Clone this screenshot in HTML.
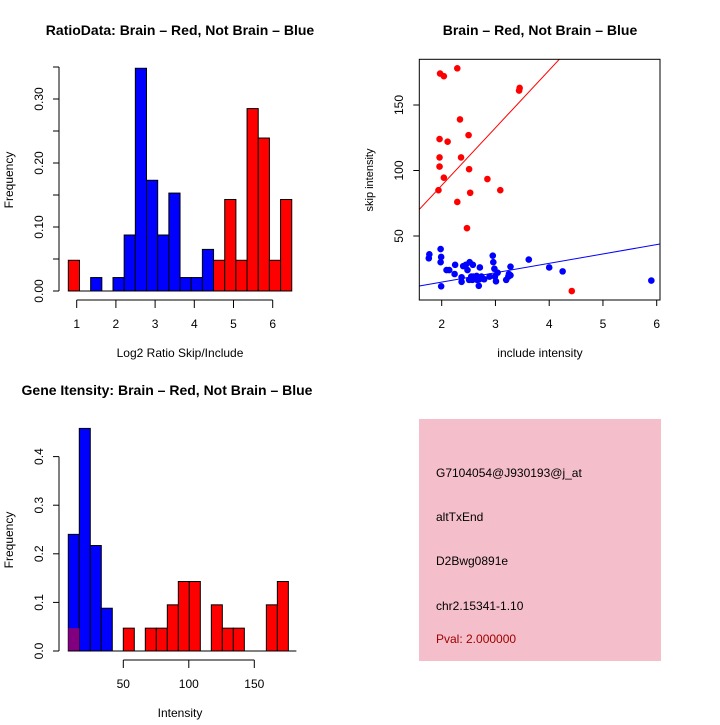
<!DOCTYPE html>
<html><head><meta charset="utf-8"><style>
html,body{margin:0;padding:0;background:#fff;}
svg text{font-family:"Liberation Sans",Arial,sans-serif;}
</style></head><body>
<svg id="s" xmlns="http://www.w3.org/2000/svg" width="720" height="720" viewBox="0 0 720 720">
<rect x="0" y="0" width="720" height="720" fill="#fff"/>
<g id="p1"></g>
<g id="p2"></g>
<g id="p3"></g>
<g>
<rect x="419" y="419" width="242" height="242" fill="#f4bfcb"/>
<text x="436" y="477" font-size="12">G7104054@J930193@j_at</text>
<text x="436" y="521" font-size="12">altTxEnd</text>
<text x="436" y="565" font-size="12">D2Bwg0891e</text>
<text x="436" y="610" font-size="12">chr2.15341-1.10</text>
<text x="436" y="643" font-size="12" fill="#a00000">Pval: 2.000000</text>
</g>
</svg>
<script>
// ---- data: ratio histogram (20 bins) ----
const ratioBinStart = 0.786;
const ratioBinWidth = 0.285;
const ratioColors = ["r","n","b","n","b","b","b","b","b","b","b","b","b","r","r","r","r","r","r","r"];
const ratioFreq = [0.048,0,0.021,0,0.021,0.0875,0.348,0.173,0.0875,0.153,0.021,0.021,0.065,0.048,0.143,0.048,0.285,0.239,0.048,0.143];
const ratioXTicks = [1,2,3,4,5,6];
const ratioYTicks = ["0.00","0.10","0.20","0.30"];
// ---- data: scatter ----
const redX = [2.29,1.97,2.04,3.44,3.45,2.34,2.50,1.96,2.11,1.96,2.36,1.96,2.51,2.04,2.85,3.09,1.94,2.53,2.29,2.47,4.42];
const redY = [178,174,172,161,163,139,127,124,122,110,110,103,101,94.5,93.5,85,85,83,76,56,8];
const blueX = [1.77,1.76,1.98,1.99,1.98,1.99,2.09,2.14,2.24,2.25,2.37,2.37,2.45,2.48,2.52,2.58,2.51,2.57,2.65,2.66,2.69,2.71,2.74,2.79,2.59,2.89,2.96,2.98,3.04,3.01,2.99,3.20,3.24,3.28,3.28,3.62,4.00,4.25,5.90,2.62,2.55,2.70,2.95,3.25,2.40];
const blueY = [36,33,40,34,30,11.6,24,24,21,28,18.5,15,28,24,30,28,16.5,16.5,19.5,16.5,12,26,19,17,19,19,30,25,22,15.4,19,16.5,19,26.6,20,32,26,23,16,18,19,17,35,21,27];
const redFit = [0.6,44];
const blueFit = [0.44,7.17];
const scatXTicks = [2,3,4,5,6];
const scatYTicks = [50,100,150];
// ---- data: intensity histogram ----
const intBinStart = 8;
const intBinWidth = 8.4;
const intBlue = [0.24,0.458,0.217,0.088,0,0,0,0,0,0,0,0,0,0,0,0,0,0,0,0];
const intRed = [0.047,0,0,0,0,0.047,0,0.047,0.047,0.095,0.143,0.143,0,0.095,0.047,0.047,0,0,0.095,0.143];
const intXTicks = [50,100,150];
const intYTicks = ["0.0","0.1","0.2","0.3","0.4"];

const NS="http://www.w3.org/2000/svg";
function mk(parent,tag,attrs,text){const e=document.createElementNS(NS,tag);for(const k in attrs)e.setAttribute(k,attrs[k]);if(text!==undefined)e.textContent=text;parent.appendChild(e);return e;}

// ---- Plot 1 ----
(function(){
const g=document.getElementById('p1');
const x=v=>76.7+(v-1)*39.2, y=v=>291-v*640;
const t=mk(g,'text',{x:180,y:35,'font-size':14,'font-weight':'bold','text-anchor':'middle'},'RatioData: Brain \u2013 Red, Not Brain \u2013 Blue');


ratioFreq.forEach((f,i)=>{ if(f<=0) return;
  const x0=x(ratioBinStart+i*ratioBinWidth), x1=x(ratioBinStart+(i+1)*ratioBinWidth);
  const r=mk(g,'rect',{x:x0,y:y(f),width:x1-x0,height:y(0)-y(f),fill:ratioColors[i]==='r'?'#ff0000':'#0000ff',stroke:'#000','stroke-width':1});
  
  
});
mk(g,'line',{x1:x(ratioBinStart),x2:x(ratioBinStart+20*ratioBinWidth),y1:y(0),y2:y(0),stroke:'#000'});
// y axis
mk(g,'line',{x1:59,x2:59,y1:y(0),y2:67,stroke:'#000'});
for(let v=0;v<=0.35001;v+=0.05) mk(g,'line',{x1:53,x2:59,y1:y(v),y2:y(v),stroke:'#000'});
ratioYTicks.forEach(s=>{const v=parseFloat(s);const yy=y(v);const e=mk(g,'text',{x:43,y:yy,'font-size':12,'text-anchor':'middle',transform:`rotate(-90 43 ${yy})`},s);
  
  });
// x axis
mk(g,'line',{x1:x(1),x2:x(6),y1:300,y2:300,stroke:'#000'});
ratioXTicks.forEach(v=>{mk(g,'line',{x1:x(v),x2:x(v),y1:300,y2:308,stroke:'#000'});
  const e=mk(g,'text',{x:x(v),y:328,'font-size':12,'text-anchor':'middle'},String(v));
  
  });
const xl=mk(g,'text',{x:180,y:357,'font-size':12,'text-anchor':'middle'},'Log2 Ratio Skip/Include');


const yl=mk(g,'text',{x:13,y:180,'font-size':12,'text-anchor':'middle',transform:'rotate(-90 13 180)'},'Frequency');


})();

// ---- Plot 2 ----
(function(){
const g=document.getElementById('p2');
const L=419.3,R=660,T=59.3,B=300;
const x=v=>441.7+(v-2)*53.75, y=v=>301.5-v*1.31;
const t=mk(g,'text',{x:540,y:35,'font-size':14,'font-weight':'bold','text-anchor':'middle'},'Brain \u2013 Red, Not Brain \u2013 Blue');


const cp=mk(g,'clipPath',{id:'c2'});mk(cp,'rect',{x:L,y:T,width:R-L,height:B-T});
const fl=(c,col)=>{const x0=(L-441.7)/53.75+2,x1=(R-441.7)/53.75+2;
  const e=mk(g,'line',{x1:x(x0),y1:y(c[0]+c[1]*x0),x2:x(x1),y2:y(c[0]+c[1]*x1),stroke:col,'clip-path':'url(#c2)'});
  
  };
fl(redFit,'#ff0000');fl(blueFit,'#0000ff');
redX.forEach((v,i)=>{const c=mk(g,'circle',{cx:x(v),cy:y(redY[i]),r:3.3,fill:'#ff0000'});
  
  });
blueX.forEach((v,i)=>{const c=mk(g,'circle',{cx:x(v),cy:y(blueY[i]),r:3.3,fill:'#0000ff'});
  
  });
mk(g,'rect',{x:L,y:T,width:R-L,height:B-T,fill:'none',stroke:'#000'});
scatXTicks.forEach(v=>{mk(g,'line',{x1:x(v),x2:x(v),y1:B,y2:B+6,stroke:'#000'});
  const e=mk(g,'text',{x:x(v),y:328,'font-size':12,'text-anchor':'middle'},String(v));
  
  });
scatYTicks.forEach(v=>{mk(g,'line',{x1:L-6,x2:L,y1:y(v),y2:y(v),stroke:'#000'});
  const e=mk(g,'text',{x:403,y:y(v),'font-size':12,'text-anchor':'middle',transform:`rotate(-90 403 ${y(v)})`},String(v));
  
  });
const xl=mk(g,'text',{x:540,y:357,'font-size':12,'text-anchor':'middle'},'include intensity');


const yl=mk(g,'text',{x:373,y:180,'font-size':11,'text-anchor':'middle',transform:'rotate(-90 373 180)'},'skip intensity');


})();

// ---- Plot 3 ----
(function(){
const g=document.getElementById('p3');
const x=v=>57.8+v*1.31, y=v=>651-v*486;
const t=mk(g,'text',{x:167,y:395,'font-size':14,'font-weight':'bold','text-anchor':'middle'},'Gene Itensity: Brain \u2013 Red, Not Brain \u2013 Blue');


const bw=i=>[x(intBinStart+i*intBinWidth),x(intBinStart+(i+1)*intBinWidth)];
intBlue.forEach((f,i)=>{if(f<=0)return;const [a,b]=bw(i);
  const r=mk(g,'rect',{x:a,y:y(f),width:b-a,height:y(0)-y(f),fill:'#0000ff',stroke:'#000'});
  
  });
intRed.forEach((f,i)=>{if(f<=0)return;const [a,b]=bw(i);
  const col=intBlue[i]>0?'#800080':'#ff0000';
  const r=mk(g,'rect',{x:a,y:y(f),width:b-a,height:y(0)-y(f),fill:col,stroke:intBlue[i]>0?'none':'#000'});
  
  });
mk(g,'line',{x1:bw(0)[0],x2:bw(19)[1]+8,y1:y(0),y2:y(0),stroke:'#000'});
mk(g,'line',{x1:59,x2:59,y1:y(0),y2:y(0.4),stroke:'#000'});
intYTicks.forEach(s=>{const v=parseFloat(s);const yy=y(v);mk(g,'line',{x1:53,x2:59,y1:yy,y2:yy,stroke:'#000'});
  const e=mk(g,'text',{x:43,y:yy,'font-size':12,'text-anchor':'middle',transform:`rotate(-90 43 ${yy})`},s);
  
  });
mk(g,'line',{x1:x(50),x2:x(150),y1:660,y2:660,stroke:'#000'});
intXTicks.forEach(v=>{mk(g,'line',{x1:x(v),x2:x(v),y1:660,y2:668,stroke:'#000'});
  const e=mk(g,'text',{x:x(v),y:688,'font-size':12,'text-anchor':'middle'},String(v));
  
  });
const xl=mk(g,'text',{x:180,y:717,'font-size':12,'text-anchor':'middle'},'Intensity');


const yl=mk(g,'text',{x:13,y:540,'font-size':12,'text-anchor':'middle',transform:'rotate(-90 13 540)'},'Frequency');


})();
</script>
</body></html>
